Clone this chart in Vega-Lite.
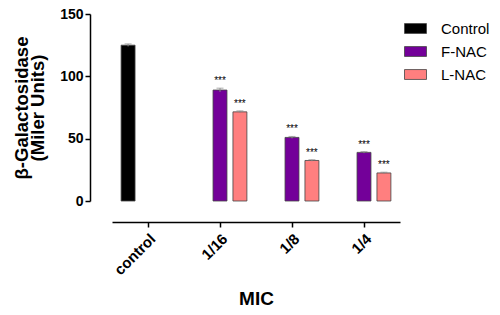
{
  "$schema": "https://vega.github.io/schema/vega-lite/v6.json",
  "width": 288,
  "height": 187,
  "autosize": "none",
  "padding": {"left": 112, "top": 14, "right": 100, "bottom": 114},
  "background": "white",
  "config": {
    "view": {"stroke": null},
    "font": "Liberation Sans"
  },
  "data": {
    "values": [
      {"mic": "control", "series": "Control", "value": 125, "err": 1.0, "sig": ""},
      {"mic": "1/16", "series": "F-NAC", "value": 89, "err": 1.5, "sig": "***"},
      {"mic": "1/16", "series": "L-NAC", "value": 71.5, "err": 0.8, "sig": "***"},
      {"mic": "1/8", "series": "F-NAC", "value": 51, "err": 0.8, "sig": "***"},
      {"mic": "1/8", "series": "L-NAC", "value": 32.5, "err": 0.6, "sig": "***"},
      {"mic": "1/4", "series": "F-NAC", "value": 39, "err": 0.6, "sig": "***"},
      {"mic": "1/4", "series": "L-NAC", "value": 22.5, "err": 0.6, "sig": "***"}
    ]
  },
  "transform": [
    {"calculate": "datum.value - datum.err", "as": "lo"},
    {"calculate": "datum.value + datum.err", "as": "hi"}
  ],
  "encoding": {
    "x": {
      "field": "mic",
      "type": "nominal",
      "sort": ["control", "1/16", "1/8", "1/4"],
      "scale": {"paddingInner": 0.17, "paddingOuter": 0.085},
      "axis": {
        "title": "MIC",
        "offset": 21,
        "domainColor": "black",
        "domainWidth": 1.5,
        "tickColor": "black",
        "tickWidth": 1.5,
        "tickSize": 5,
        "labelAngle": -45,
        "labelFont": "Liberation Sans",
        "labelFontWeight": "bold",
        "labelFontSize": 15,
        "labelColor": "black",
        "labelPadding": 4,
        "titleFont": "Liberation Sans",
        "titleFontWeight": "bold",
        "titleFontSize": 19,
        "titleColor": "black",
        "titlePadding": 12
      }
    },
    "xOffset": {
      "field": "series",
      "type": "nominal",
      "sort": ["Control", "F-NAC", "L-NAC"],
      "scale": {"domain": ["Control", "F-NAC", "L-NAC"], "paddingInner": 0.3, "paddingOuter": 0.15}
    }
  },
  "layer": [
    {
      "mark": {"type": "bar", "stroke": "#444444", "strokeWidth": 0.8},
      "encoding": {
        "y": {
          "field": "value",
          "type": "quantitative",
          "scale": {"domain": [0, 150], "nice": false},
          "axis": {
            "values": [0, 50, 100, 150],
            "grid": false,
            "offset": 22,
            "domainColor": "black",
            "domainWidth": 1.5,
            "tickColor": "black",
            "tickWidth": 1.5,
            "tickSize": 5,
            "labelFont": "Liberation Sans",
            "labelFontWeight": "bold",
            "labelFontSize": 14,
            "labelColor": "black",
            "labelPadding": 2,
            "title": ["β-Galactosidase", "(Miler Units)"],
            "titleFont": "Liberation Sans",
            "titleFontWeight": "bold",
            "titleFontSize": 18.5,
            "titleColor": "black",
            "titlePadding": 12,
            "titleLineHeight": 16
          }
        },
        "color": {
          "field": "series",
          "type": "nominal",
          "scale": {"domain": ["Control", "F-NAC", "L-NAC"], "range": ["#000000", "#730099", "#FF7F7F"]},
          "legend": {
            "title": null,
            "orient": "none",
            "legendX": 292,
            "legendY": 3,
            "symbolType": "M-1,-0.45H1V0.45H-1Z",
            "symbolSize": 484,
            "symbolStrokeColor": "#444444",
            "symbolStrokeWidth": 0.8,
            "labelFont": "Liberation Sans",
            "labelFontSize": 15,
            "labelColor": "black",
            "labelOffset": 14,
            "rowPadding": 3,
            "symbolOpacity": 1
          }
        }
      }
    },
    {
      "mark": {"type": "rule", "color": "#888888", "strokeWidth": 1},
      "encoding": {
        "y": {"field": "lo", "type": "quantitative"},
        "y2": {"field": "hi"}
      }
    },
    {
      "mark": {"type": "tick", "color": "#888888", "thickness": 1, "size": 7, "orient": "horizontal"},
      "encoding": {
        "y": {"field": "hi", "type": "quantitative"}
      }
    },
    {
      "mark": {"type": "text", "fontSize": 10, "font": "Liberation Sans", "color": "black", "baseline": "bottom", "dy": -2},
      "encoding": {
        "y": {"field": "hi", "type": "quantitative"},
        "text": {"field": "sig"}
      }
    }
  ]
}
